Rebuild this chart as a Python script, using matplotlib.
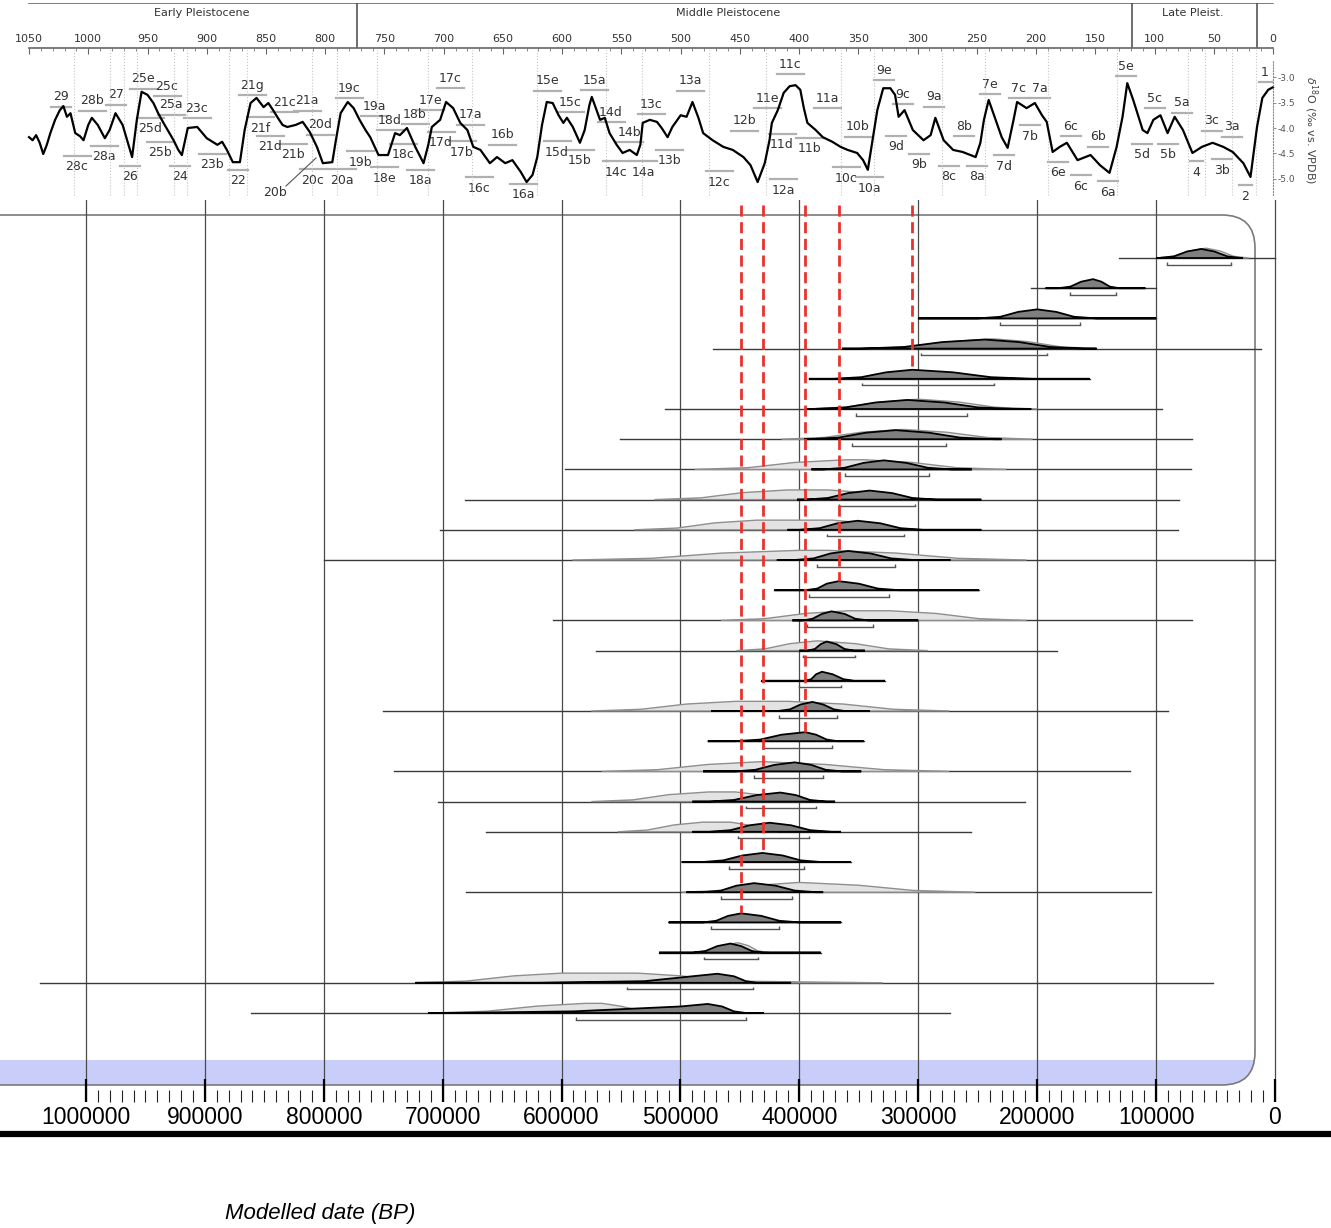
import matplotlib
matplotlib.use('Agg')
import matplotlib.pyplot as plt
from matplotlib.patches import FancyBboxPatch, Rectangle
from matplotlib.ticker import FixedLocator, FuncFormatter

# benthic d18O stack (ka, per mil vs VPDB)
d18o_ka = [1050, 1047, 1044, 1041, 1038, 1035, 1032, 1028, 1024, 1021, 1018, 1015, 1011, 1007, 1004,
           1000, 997, 992, 986, 982, 977, 971, 966, 963, 959, 955, 950, 945, 941, 937, 933, 928, 924,
           921, 916, 908, 900, 891, 887, 883, 878, 872, 868, 863, 858, 852, 848, 844, 840, 836, 832,
           825, 819, 813, 807, 802, 794, 791, 787, 781, 776, 771, 766, 762, 759, 755, 747, 741, 737,
           731, 724, 717, 713, 710, 703, 698, 692, 686, 680, 675, 669, 661, 655, 648, 642, 635, 630,
           625, 621, 617, 613, 608, 603, 599, 596, 591, 585, 581, 577, 575, 571, 568, 564, 560, 554,
           549, 543, 537, 534, 532, 526, 520, 516, 511, 507, 500, 495, 490, 485, 481, 473, 464, 456,
           447, 441, 435, 429, 425, 423, 418, 413, 408, 403, 399, 396, 393, 386, 380, 372, 365, 359,
           351, 346, 342, 338, 334, 329, 323, 319, 316, 311, 304, 295, 289, 285, 278, 270, 262, 251,
           247, 244, 240, 235, 229, 224, 219, 216, 208, 201, 195, 191, 186, 180, 174, 165, 154, 146,
           138, 132, 127, 123, 118, 110, 106, 101, 95, 89, 83, 76, 68, 60, 51, 42, 34, 25, 19, 13.5,
           9, 4, 0]
d18o_val = [-4.18, -4.24, -4.14, -4.29, -4.51, -4.33, -4.10, -3.84, -3.65, -3.57, -3.78, -3.71, -4.10,
            -4.16, -4.24, -3.94, -3.80, -3.94, -4.20, -4.04, -3.71, -3.94, -4.33, -4.57, -3.84, -3.29,
            -3.35, -3.51, -3.71, -3.88, -4.04, -4.24, -4.43, -4.53, -4.00, -3.98, -4.20, -4.33, -4.27,
            -4.43, -4.67, -4.67, -4.04, -3.51, -3.41, -3.59, -3.51, -3.65, -3.80, -3.94, -3.98, -3.94,
            -3.88, -4.08, -4.37, -4.69, -4.67, -4.24, -3.71, -3.49, -3.61, -3.84, -4.04, -4.18, -4.33,
            -4.53, -4.53, -4.10, -4.14, -4.00, -4.37, -4.69, -4.33, -3.98, -3.84, -3.49, -3.61, -3.90,
            -4.04, -4.37, -4.43, -4.69, -4.57, -4.69, -4.63, -4.86, -5.06, -4.92, -4.57, -3.94, -3.49,
            -3.51, -3.75, -3.90, -3.80, -3.98, -4.29, -4.04, -3.55, -3.39, -3.65, -3.84, -3.80, -4.10,
            -4.33, -4.49, -4.43, -4.53, -4.33, -3.90, -3.84, -3.88, -4.00, -4.18, -3.98, -3.75, -3.78,
            -3.49, -3.80, -4.10, -4.24, -4.37, -4.43, -4.57, -4.73, -5.06, -4.69, -4.24, -3.90, -3.65,
            -3.31, -3.18, -3.16, -3.25, -3.61, -3.90, -4.04, -4.18, -4.27, -4.37, -4.43, -4.49, -4.63,
            -4.82, -4.24, -3.65, -3.22, -3.22, -3.35, -3.78, -3.65, -4.04, -4.24, -4.14, -3.80, -4.24,
            -4.43, -4.47, -4.57, -4.29, -3.84, -3.45, -3.78, -4.18, -4.39, -3.84, -3.49, -3.61, -3.51,
            -3.75, -3.88, -4.47, -4.37, -4.29, -4.63, -4.53, -4.73, -4.88, -4.37, -3.78, -3.12, -3.45,
            -4.04, -4.10, -3.84, -3.75, -4.10, -3.78, -4.04, -4.49, -4.37, -4.29, -4.37, -4.47, -4.69,
            -4.96, -3.98, -3.41, -3.25, -3.20]

stage_bounds = [1012, 982, 970, 959, 928, 917, 881, 866, 811, 790, 756, 713, 676, 621, 563, 533,
                476, 428, 365, 337, 279, 243, 190, 132, 72, 57, 35, 14]
epoch_bounds = [773, 119, 13.5]
epoch_names = ['Early Pleistocene', 'Middle Pleistocene', 'Late Pleist.']
epoch_centres = [904, 460, 67.5]

# MIS labels: text, pixel x, pixel y, bar side (p = bar below, t = bar above)
mis_labels = [
    ('29', 61, 97, 'p'), ('28b', 92, 101, 'p'), ('27', 116, 95, 'p'), ('25e', 143, 79, 'p'),
    ('25c', 167, 86, 'p'), ('25a', 171, 105, 'p'), ('23c', 197, 108, 'p'), ('25d', 150, 129, 't'),
    ('25b', 160, 153, 't'), ('28c', 77, 167, 't'), ('28a', 104, 157, 't'), ('26', 130, 177, 't'),
    ('24', 180, 177, 't'), ('23b', 212, 165, 't'), ('22', 238, 181, 't'), ('21g', 252, 85, 'p'),
    ('21c', 284, 102, 'p'), ('21a', 307, 101, 'p'), ('21f', 260, 128, 't'), ('20d', 320, 125, 'p'),
    ('21d', 270, 147, 't'), ('21b', 293, 155, 't'), ('20c', 313, 180, 't'), ('20a', 342, 180, 't'),
    ('20b', 275, 193, 'n'), ('19c', 349, 88, 'p'), ('19a', 374, 106, 'p'), ('18d', 390, 120, 'p'),
    ('18b', 415, 114, 'p'), ('18c', 403, 155, 't'), ('19b', 360, 162, 't'), ('18e', 384, 178, 't'),
    ('18a', 420, 181, 't'), ('17e', 430, 100, 'p'), ('17c', 450, 78, 'p'), ('17a', 470, 115, 'p'),
    ('17d', 441, 143, 't'), ('17b', 462, 152, 't'), ('16b', 502, 135, 'p'), ('16c', 479, 188, 't'),
    ('16a', 523, 195, 't'), ('15e', 547, 81, 'p'), ('15a', 594, 80, 'p'), ('15c', 570, 102, 'p'),
    ('14d', 611, 112, 'p'), ('14b', 629, 132, 'p'), ('15d', 557, 152, 't'), ('15b', 580, 161, 't'),
    ('14c', 616, 172, 't'), ('14a', 643, 172, 't'), ('13c', 651, 104, 'p'), ('13b', 669, 161, 't'),
    ('13a', 690, 81, 'p'), ('12b', 744, 121, 'p'), ('12c', 719, 182, 't'), ('12a', 783, 190, 't'),
    ('11e', 767, 98, 'p'), ('11c', 790, 64, 'p'), ('11a', 827, 98, 'p'), ('11d', 782, 145, 't'),
    ('11b', 809, 149, 't'), ('10b', 858, 127, 'p'), ('10c', 846, 178, 't'), ('10a', 869, 188, 't'),
    ('9e', 884, 70, 'p'), ('9c', 903, 94, 'p'), ('9a', 934, 97, 'p'), ('9d', 896, 147, 't'),
    ('9b', 919, 165, 't'), ('8b', 964, 126, 'p'), ('8c', 949, 177, 't'), ('8a', 977, 177, 't'),
    ('7e', 990, 84, 'p'), ('7c', 1019, 88, 'p'), ('7a', 1040, 88, 'p'), ('7b', 1030, 136, 't'),
    ('7d', 1004, 166, 't'), ('6c', 1071, 126, 'p'), ('6b', 1098, 137, 'p'), ('6e', 1058, 173, 't'),
    ('6c', 1081, 186, 't'), ('6a', 1108, 192, 't'), ('5e', 1126, 66, 'p'), ('5c', 1155, 98, 'p'),
    ('5a', 1182, 103, 'p'), ('5d', 1142, 155, 't'), ('5b', 1168, 155, 't'), ('3c', 1212, 121, 'p'),
    ('3a', 1232, 127, 'p'), ('4', 1196, 172, 't'), ('3b', 1222, 170, 't'), ('2', 1245, 196, 't'),
    ('1', 1265, 72, 'p'),
]

# modelled dates (thousand years BP), one row per sample, top to bottom
row_start = [131, 205, 300, 473, 392, 513, 551, 597, 681, 702, 800, 421, 607, 571, 432, 750, 477,
             741, 704, 664, 499, 680, 510, 518, 1039, 861]
row_end = [0, 100, 100, 12, 156, 95, 70, 71, 81, 82, 0, 249, 70, 183, 328, 90, 346, 122, 210, 256,
           357, 104, 365, 382, 52, 273]

post_h = [0, 0, 0.18, 0.72, 1, 0.72, 0.18, 0, 0]
post_x = [
    [100, 98, 85, 74, 62, 51, 40, 29, 27],
    [193, 182, 172, 163, 153, 146, 139, 131, 109],
    [300, 250, 231, 216, 200, 184, 169, 150, 100],
    [364, 349, 312, 280, 244, 215, 189, 160, 150],
    [392, 371, 348, 327, 305, 271, 239, 204, 156],
    [395, 389, 361, 336, 309, 278, 250, 218, 205],
    [396, 393, 367, 344, 319, 291, 265, 236, 230],
    [390, 380, 362, 346, 329, 310, 292, 272, 255],
    [402, 395, 376, 359, 341, 322, 305, 285, 247],
    [410, 400, 383, 368, 351, 332, 315, 296, 247],
    [419, 404, 388, 374, 359, 340, 323, 304, 273],
    [421, 395, 385, 377, 367, 350, 334, 316, 249],
    [406, 397, 389, 381, 373, 362, 353, 342, 300],
    [400, 393, 387, 382, 377, 369, 362, 354, 345],
    [432, 395, 390, 386, 381, 372, 363, 354, 328],
    [474, 418, 408, 399, 389, 380, 371, 362, 341],
    [477, 454, 433, 415, 395, 386, 377, 368, 346],
    [481, 454, 437, 421, 404, 390, 378, 364, 348],
    [490, 476, 455, 436, 416, 403, 391, 377, 370],
    [490, 476, 458, 442, 425, 407, 391, 373, 365],
    [499, 481, 464, 448, 431, 414, 399, 382, 357],
    [495, 481, 466, 453, 438, 420, 404, 386, 380],
    [510, 481, 470, 460, 449, 432, 417, 400, 365],
    [518, 490, 479, 469, 458, 449, 440, 431, 382],
    [723, 620, 530, 490, 469, 455, 445, 436, 407],
    [712, 696, 590, 500, 477, 465, 455, 445, 430],
]

prior_h = [0, 0.18, 0.72, 1, 1, 0.72, 0.18, 0]
prior_x = [
    [100, 85, 72, 59, 57, 46, 35, 22],
    None,
    None,
    [350, 305, 272, 240, 236, 208, 180, 150],
    None,
    [395, 362, 332, 302, 298, 266, 235, 200],
    [415, 379, 348, 315, 311, 276, 242, 204],
    [488, 443, 404, 360, 345, 305, 268, 226],
    [522, 483, 448, 410, 376, 344, 315, 282],
    [539, 503, 471, 436, 372, 347, 325, 299],
    [591, 524, 465, 400, 376, 319, 267, 209],
    None,
    [466, 429, 395, 359, 324, 285, 249, 209],
    [453, 429, 408, 386, 384, 353, 325, 292],
    None,
    [575, 533, 495, 454, 409, 363, 321, 274],
    None,
    [566, 519, 477, 433, 429, 378, 329, 274],
    [575, 540, 510, 476, 454, 434, 416, 395],
    [553, 528, 505, 481, 458, 444, 432, 418],
    None,
    [499, 464, 434, 402, 398, 350, 304, 252],
    None,
    [485, 474, 463, 453, 451, 443, 435, 425],
    [723, 680, 640, 600, 536, 500, 460, 330],
    [712, 663, 620, 580, 566, 551, 531, 509],
]

range_lo = [91, 172, 231, 298, 347, 352, 356, 362, 367, 377, 385, 392, 394, 397, 400, 417, 431, 438,
            445, 452, 459, 466, 474, 480, 545, 588]
range_hi = [37, 134, 164, 192, 236, 259, 277, 291, 303, 312, 320, 325, 338, 353, 365, 368, 373, 380,
            386, 392, 396, 406, 417, 435, 439, 445]

red_rows = [5, 12, 17, 21, 23]

W, H = 1331, 1228
fig = plt.figure(figsize=(W / 100, H / 100), dpi=100)


def fy(px):
    return 1 - px / H


# background layer in pixel units (frame, band, labels)
bg = fig.add_axes([0, 0, 1, 1], zorder=0)
bg.set_xlim(0, W)
bg.set_ylim(H, 0)
bg.axis('off')

band = FancyBboxPatch((-60, 215), 1255 + 60, 1085 - 215,
                      boxstyle='round,pad=0,rounding_size=33', fc='#c9cdfa', ec='none')
bg.add_patch(band)
band.set_clip_path(Rectangle((-60, 1060), 1500, 25, transform=bg.transData))
bg.add_patch(FancyBboxPatch((-60, 215), 1255 + 60, 1085 - 215,
                            boxstyle='round,pad=0,rounding_size=33', fc='none', ec='#7a7a7a', lw=1.2))
bg.axhline(1133.5, color='black', lw=4.5)
bg.text(320, 1214, 'Modelled date (BP)', style='italic', fontsize=16, family='Liberation Sans',
        ha='center', va='center')

for txt, x, y, side in mis_labels:
    bg.text(x, y, txt, fontsize=9, color='#333333', ha='center', va='center')
    bw = 7 * len(txt) + 6
    if side == 'p':
        bg.plot([x - bw / 2, x + bw / 2], [y + 10, y + 10], color='#b0b0b0', lw=1.6)
    elif side == 't':
        bg.plot([x - bw / 2, x + bw / 2], [y - 11, y - 11], color='#b0b0b0', lw=1.6)
bg.plot([286, 316], [186, 158], color='#555555', lw=0.8)
bg.text(1311, 130, r'$\delta^{18}$O (‰ vs. VPDB)', rotation=270, fontsize=8, color='#444444',
        ha='center', va='center')

# epoch band
ax_ep = fig.add_axes([0, fy(48), 1, 45 / H], zorder=1)
ax_ep.set_xlim(1074.5, -48.95)
ax_ep.set_ylim(0, 1)
ax_ep.axis('off')
ax_ep.plot([1050, 0], [1, 1], color='#666666', lw=1.2)
for b in epoch_bounds:
    ax_ep.plot([b, b], [0, 1], color='#555555', lw=1.2)
for n, c in zip(epoch_names, epoch_centres):
    ax_ep.text(c, 0.78, n, fontsize=8, color='#333333', ha='center', va='center')

# d18O panel
ax_top = fig.add_axes([0, fy(200), 1, 152 / H], zorder=2)
ax_top.set_facecolor('none')
ax_top.set_xlim(1074.5, -48.95)
ax_top.set_ylim(-5.412, -2.431)
for b in stage_bounds:
    ax_top.axvline(b, ymin=0.033, ymax=0.987, color='#c4c4c4', lw=0.8, ls=':')
ax_top.plot(d18o_ka, d18o_val, color='black', lw=1.6)
for s in ['left', 'bottom']:
    ax_top.spines[s].set_visible(False)
ax_top.spines['top'].set_bounds(1050, 0)
ax_top.spines['top'].set_color('#666666')
ax_top.spines['top'].set_linewidth(1.2)
ax_top.spines['right'].set_position(('data', 0))
ax_top.spines['right'].set_bounds(-5.31, -2.67)
ax_top.spines['right'].set_linestyle(':')
ax_top.spines['right'].set_color('#888888')
ax_top.xaxis.tick_top()
ax_top.xaxis.set_major_locator(FixedLocator(list(range(0, 1051, 50))))
ax_top.xaxis.set_minor_locator(FixedLocator(list(range(0, 1051, 10))))
ax_top.tick_params(axis='x', which='major', direction='in', length=4, width=0.8, color='#666666',
                   labelsize=8, labelcolor='#333333', pad=3)
ax_top.tick_params(axis='x', which='minor', direction='in', length=2, width=0.6, color='#777777')
ax_top.yaxis.tick_right()
ax_top.set_yticks([-3.0, -3.5, -4.0, -4.5, -5.0])
ax_top.yaxis.set_major_formatter(FuncFormatter(lambda v, p: f'{v:.1f}'))
ax_top.tick_params(axis='y', length=2, width=0.6, color='#777777', labelsize=6.5,
                   labelcolor='#555555', pad=1)

# modelled date panel
ax = fig.add_axes([0, fy(1102), 1, 902 / H], zorder=3)
ax.set_facecolor('none')
ax.set_xlim(1072.33, -47.1)
ax.set_ylim(27.947, -1.921)
for s in ax.spines.values():
    s.set_visible(False)
ax.set_yticks([])
ax.xaxis.set_major_locator(FixedLocator(list(range(0, 1001, 100))))
ax.xaxis.set_minor_locator(FixedLocator(list(range(0, 1001, 10))))
ax.xaxis.set_major_formatter(FuncFormatter(lambda v, p: f'{int(round(v * 1000))}'))
ax.tick_params(axis='x', which='major', direction='in', length=16.5, width=1.6, color='black',
               labelsize=16.5, pad=3)
ax.tick_params(axis='x', which='minor', direction='in', length=8.5, width=0.8, color='#222222')
for lab in ax.get_xticklabels():
    lab.set_family('Liberation Sans')
ax.grid(axis='x', which='major', color='#4a4a4a', lw=0.9)
ax.set_axisbelow(True)

S_POST = 0.30
S_PRIOR = 0.32
for i in range(len(row_start)):
    ax.plot([row_start[i], row_end[i]], [i, i], color='#3a3a3a', lw=1.0, zorder=2)
    if prior_x[i] is not None:
        ax.fill(prior_x[i], [i - S_PRIOR * h for h in prior_h], fc='#e3e3e3', ec='#8f8f8f',
                lw=1.0, zorder=3)
    ax.fill(post_x[i], [i - S_POST * h for h in post_h], fc='#7f7f7f', ec='black', lw=1.3,
            zorder=4)
    yb = i + 0.22
    ax.plot([range_lo[i], range_hi[i]], [yb, yb], color='#555555', lw=1.0, zorder=3)
    ax.vlines([range_lo[i], range_hi[i]], yb - 0.09, yb, color='#555555', lw=1.0, zorder=3)

for r in red_rows:
    ax.vlines(post_x[r - 1][4], -1.75, r - 1 - S_POST, colors='#e8322b', lw=2,
              linestyles=(0, (4, 2)), zorder=6)

fig.savefig('out.png', dpi=100)
